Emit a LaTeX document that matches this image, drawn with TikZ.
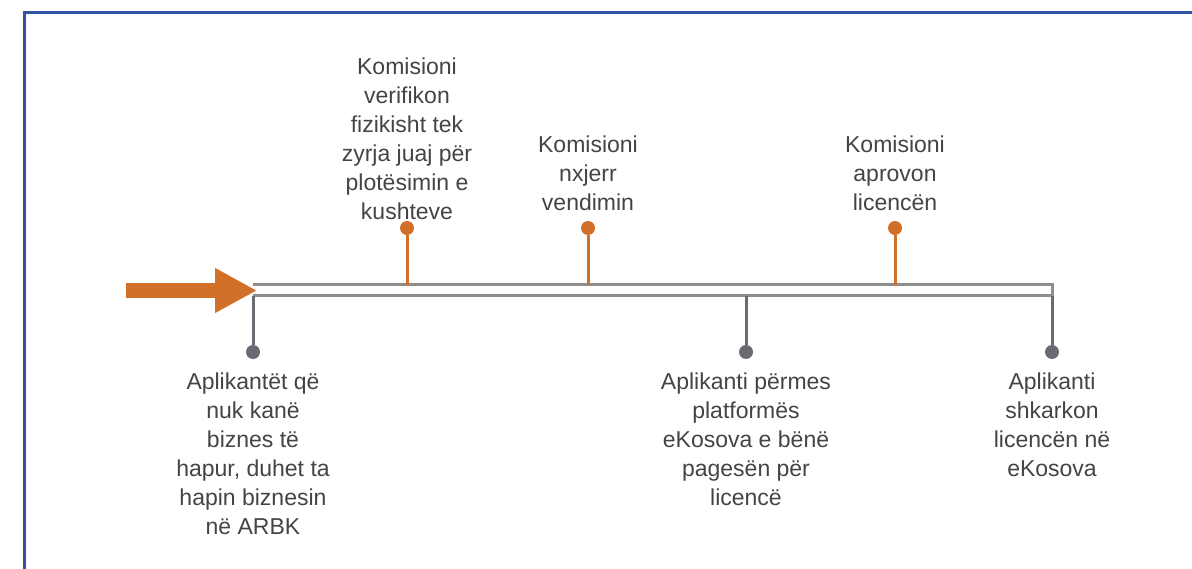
\documentclass[tikz,border=0pt]{standalone}
\usepackage{fontspec}
\setmainfont{Liberation Sans}
\usetikzlibrary{arrows.meta}
\definecolor{ekorange}{HTML}{D2702A}
\definecolor{ekgray}{HTML}{6A6A72}
\definecolor{ekbar}{HTML}{8E8E8E}
\definecolor{ekblue}{HTML}{2F55A2}
\definecolor{ektext}{HTML}{444444}
\begin{document}
\begin{tikzpicture}[x=1pt,y=-1pt,
  txt/.style={align=center,anchor=north,inner sep=0pt,text=ektext,font=\fontsize{23}{29}\selectfont},
  odot/.style={circle,fill=ekorange,inner sep=0pt,minimum size=14pt},
  gdot/.style={circle,fill=ekgray,inner sep=0pt,minimum size=14pt},
  ostem/.style={draw=ekorange,line width=3pt},
  gstem/.style={draw=ekgray,line width=3pt}]
  \useasboundingbox (0,0) rectangle (1192,569);
  % frame
  \draw[ekblue,line width=3pt] (24,569) -- (24,12.5) -- (1192,12.5);
  % bar
  \coordinate (start) at (253,285);
  \coordinate (end) at (1052,285);
  \coordinate (b1) at (253,296);
  \coordinate (b2) at (746,296);
  \coordinate (b3) at (1052,296);
  \coordinate (a1) at (407,285);
  \coordinate (a2) at (588,285);
  \coordinate (a3) at (895,285);
  \draw[ekbar,line width=3pt] (start) -- (end) -- (b3) -- (b1);
  % arrow in
  \coordinate (in) at (126,290.5);
  \coordinate (tip) at (257,290.5);
  \draw[ekorange,line width=15pt,-{Triangle[length=42pt,width=42pt]}] (in) -- (tip);
  % top
  \node[odot] (o1) at (407,228) {};
  \node[odot] (o2) at (588,228) {};
  \node[odot] (o3) at (895,228) {};
  \draw[ostem] (o1) -- (a1);
  \draw[ostem] (o2) -- (a2);
  \draw[ostem] (o3) -- (a3);
  \node[txt] (t1) at (407,58) {Komisioni\\verifikon\\fizikisht tek\\zyrja juaj për\\plotësimin e\\kushteve};
  \node[txt] (t2) at (588,136) {Komisioni\\nxjerr\\vendimin};
  \node[txt] (t3) at (895,136) {Komisioni\\aprovon\\licencën};
  % bottom
  \node[gdot] (g1) at (253,352) {};
  \node[gdot] (g2) at (746,352) {};
  \node[gdot] (g3) at (1052,352) {};
  \draw[gstem] (b1) -- (g1);
  \draw[gstem] (b2) -- (g2);
  \draw[gstem] (b3) -- (g3);
  \node[txt] (s1) at (253,373) {Aplikantët që\\nuk kanë\\biznes të\\hapur, duhet ta\\hapin biznesin\\në ARBK};
  \node[txt] (s2) at (746,373) {Aplikanti përmes\\platformës\\eKosova e bënë\\pagesën për\\licencë};
  \node[txt] (s3) at (1052,373) {Aplikanti\\shkarkon\\licencën në\\eKosova};
\end{tikzpicture}
\end{document}
